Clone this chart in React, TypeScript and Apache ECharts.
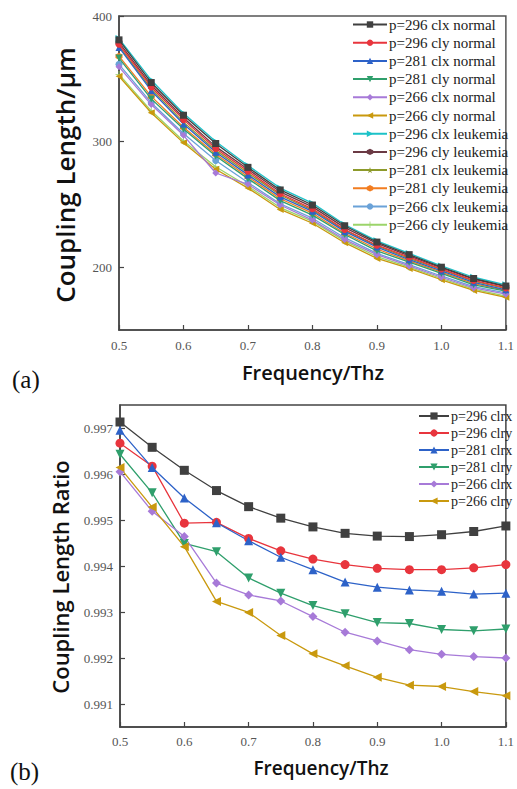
import React, { useEffect, useRef } from "react";
import * as echarts from "echarts";

const freqs = [0.5, 0.55, 0.6, 0.65, 0.7, 0.75, 0.8, 0.85, 0.9, 0.95, 1.0, 1.05, 1.1];

const namesA = [
  "p=296 clx normal", "p=296 cly normal", "p=281 clx normal", "p=281 cly normal",
  "p=266 clx normal", "p=266 cly normal", "p=296 clx leukemia", "p=296 cly leukemia",
  "p=281 clx leukemia", "p=281 cly leukemia", "p=266 clx leukemia", "p=266 cly leukemia",
];

const len296clxN = [381, 347, 321, 298.5, 279.5, 261.5, 249.5, 233, 220, 210, 200, 191, 185];
const len296clyN = [377.5, 343.5, 317.5, 294.5, 276.5, 258.5, 246.5, 230, 217.5, 208, 198.5, 189.5, 183.5];
const len281clxN = [375, 340.5, 314, 291.5, 273.5, 256, 244.5, 228.5, 216, 206, 197, 188, 182];
const len281clyN = [366.5, 334, 310, 288.5, 270.5, 253, 241.5, 226, 213, 204, 195, 186, 181];
const len266clxN = [359.5, 329.5, 305, 275, 266, 249.5, 237.5, 222, 210, 201, 192, 183.5, 178.5];
const len266clyN = [352, 323, 299, 278, 263, 246, 235, 219.5, 207, 199, 190, 181.5, 176];
const len296clxL = [382, 349, 322.5, 300, 281, 263, 251, 234, 221, 211, 201, 192, 186];
const len296clyL = [379, 345, 319, 296, 278, 260, 248, 231.5, 219, 209, 199.5, 190.5, 184.5];
const len281clxL = [376, 342, 315.5, 293, 275, 257.5, 245.5, 229.5, 217, 207, 198, 189, 183];
const len281clyL = [368, 336, 311.5, 290, 272, 254.5, 243, 227, 214.5, 205, 196, 187, 181.5];
const len266clxL = [361.5, 331, 306.5, 285, 267.5, 250.5, 239, 223.5, 211, 202, 193, 184.5, 179.5];
const len266clyL = [353.5, 324.5, 300.5, 280, 264.5, 247.5, 236.5, 221, 208.5, 200, 191, 182.5, 177];

const namesB = ["p=296 clrx", "p=296 clry", "p=281 clrx", "p=281 clry", "p=266 clrx", "p=266 clry"];

const ratio296clrx = [0.99713, 0.99658, 0.99608, 0.99564, 0.99529, 0.99504, 0.99485, 0.99471, 0.99465, 0.99464, 0.99468, 0.99475, 0.99487];
const ratio296clry = [0.99667, 0.99617, 0.99493, 0.99495, 0.9946, 0.99433, 0.99415, 0.99403, 0.99395, 0.99392, 0.99392, 0.99396, 0.99403];
const ratio281clrx = [0.99695, 0.99614, 0.99548, 0.99494, 0.99455, 0.99419, 0.99392, 0.99365, 0.99354, 0.99348, 0.99345, 0.99339, 0.99341];
const ratio281clry = [0.99643, 0.99559, 0.99449, 0.99431, 0.99374, 0.99341, 0.99314, 0.99296, 0.99277, 0.99275, 0.99262, 0.99259, 0.99263];
const ratio266clrx = [0.99605, 0.99519, 0.99464, 0.99363, 0.99337, 0.99324, 0.9929, 0.99256, 0.99237, 0.99218, 0.99208, 0.99203, 0.992];
const ratio266clry = [0.99614, 0.99528, 0.99442, 0.99323, 0.99299, 0.99249, 0.99209, 0.99183, 0.99158, 0.99141, 0.99138, 0.99127, 0.99118];

const yTicksA = [200, 300, 400];
const yTicksB = [0.991, 0.992, 0.993, 0.994, 0.995, 0.996, 0.997];

const STAR = "path://M50,0 L61,35 L98,35 L68,57 L79,91 L50,70 L21,91 L32,57 L2,35 L39,35 Z";
const PLUS = "path://M44,0 H56 V44 H100 V56 H56 V100 H44 V56 H0 V44 H44 Z";
const HEX = "path://M50,0 L93,25 L93,75 L50,100 L7,75 L7,25 Z";

const stylesA = [
  { color: "#404040", symbol: "rect", rotate: 0 },
  { color: "#e8353d", symbol: "circle", rotate: 0 },
  { color: "#2d62c8", symbol: "triangle", rotate: 0 },
  { color: "#2f9f6c", symbol: "triangle", rotate: 180 },
  { color: "#a77ad8", symbol: "diamond", rotate: 0 },
  { color: "#c9990e", symbol: "triangle", rotate: 90 },
  { color: "#1cc2c8", symbol: "triangle", rotate: -90 },
  { color: "#6b3a44", symbol: HEX, rotate: 0 },
  { color: "#8d9a2b", symbol: STAR, rotate: 0 },
  { color: "#f27d20", symbol: HEX, rotate: 0 },
  { color: "#6aa2d8", symbol: "circle", rotate: 0 },
  { color: "#9bd46a", symbol: PLUS, rotate: 0 },
];

const dataA = [
  len296clxN, len296clyN, len281clxN, len281clyN, len266clxN, len266clyN,
  len296clxL, len296clyL, len281clxL, len281clyL, len266clxL, len266clyL,
];
const dataB = [ratio296clrx, ratio296clry, ratio281clrx, ratio281clry, ratio266clrx, ratio266clry];

const tickFont = "Liberation Serif";
const titleFont = "Open Sans";

export default function App() {
  const ref = useRef<HTMLDivElement>(null);
  useEffect(() => {
    if (!ref.current) return;
    const chart = echarts.init(ref.current, null, { renderer: "svg" });
    const pairs = (arr: number[]) => arr.map((v, i) => [freqs[i], v]);

    const axisCommon = {
      axisLine: { show: true, lineStyle: { color: "#444", width: 1.5 } },
      axisTick: { show: true, inside: true, length: 5, lineStyle: { color: "#444", width: 1.2 } },
      splitLine: { show: false },
      axisLabel: { color: "#555", fontFamily: tickFont, fontSize: 13 },
    };

    const seriesA = dataA.map((d, i) => ({
      name: namesA[i],
      type: "line",
      xAxisIndex: 0,
      yAxisIndex: 0,
      data: pairs(d),
      symbol: stylesA[i].symbol,
      symbolRotate: stylesA[i].rotate,
      symbolSize: 7,
      lineStyle: { color: stylesA[i].color, width: 1.3 },
      itemStyle: { color: stylesA[i].color },
      z: 20 - i,
    }));
    const seriesB = dataB.map((d, i) => ({
      name: namesB[i],
      type: "line",
      xAxisIndex: 1,
      yAxisIndex: 1,
      data: pairs(d),
      symbol: stylesA[i].symbol,
      symbolRotate: stylesA[i].rotate,
      symbolSize: 9,
      lineStyle: { color: stylesA[i].color, width: 1.3 },
      itemStyle: { color: stylesA[i].color },
    }));

    chart.setOption({
      animation: false,
      backgroundColor: "#fff",
      grid: [
        { left: 119, top: 16, width: 390, height: 314, show: true, borderColor: "#555", borderWidth: 1.5, backgroundColor: "transparent" },
        { left: 120, top: 405, width: 396, height: 322, show: true, borderColor: "#444", borderWidth: 1.5, backgroundColor: "transparent" },
      ],
      xAxis: [
        {
          ...axisCommon, type: "value", gridIndex: 0, min: 0.5, max: 1.1, interval: 0.1,
          axisLabel: { ...axisCommon.axisLabel, margin: 9, formatter: (v: number) => v.toFixed(1) },
        },
        {
          ...axisCommon, type: "value", gridIndex: 1, min: 0.5, max: 1.1, interval: 0.1,
          axisLabel: { ...axisCommon.axisLabel, margin: 8, formatter: (v: number) => v.toFixed(1) },
        },
      ],
      yAxis: [
        {
          ...axisCommon, type: "value", gridIndex: 0, min: 150, max: 400,
          axisTick: { ...axisCommon.axisTick, customValues: yTicksA },
          axisLabel: { ...axisCommon.axisLabel, margin: 7, customValues: yTicksA },
        },
        {
          ...axisCommon, type: "value", gridIndex: 1, min: 0.9905, max: 0.9975,
          axisTick: { ...axisCommon.axisTick, customValues: yTicksB },
          axisLabel: { ...axisCommon.axisLabel, margin: 7, customValues: yTicksB, formatter: (v: number) => v.toFixed(3) },
        },
      ],
      legend: [
        {
          data: namesA, orient: "vertical", left: 352, top: 17, itemWidth: 34, itemHeight: 8, itemGap: 3.2,
          textStyle: { fontFamily: tickFont, fontSize: 15, color: "#222", padding: [0, 0, 0, -3] },
          padding: 0,
        },
        {
          data: namesB, orient: "vertical", left: 418, top: 409, itemWidth: 30, itemHeight: 9, itemGap: 3,
          textStyle: { fontFamily: tickFont, fontSize: 14, color: "#222", padding: [0, 0, 0, -3] },
          padding: 0,
        },
      ],
      graphic: [
        { type: "text", x: 65, y: 175, rotation: Math.PI / 2, style: { text: "Coupling Length/μm", fontFamily: titleFont, fontSize: 26, fontWeight: 600, fill: "#111", textAlign: "center", textVerticalAlign: "middle" } },
        { type: "text", x: 313, y: 372, style: { text: "Frequency/Thz", fontFamily: titleFont, fontSize: 20, fontWeight: 600, fill: "#111", textAlign: "center", textVerticalAlign: "middle" } },
        { type: "text", x: 12, y: 379, style: { text: "(a)", fontFamily: tickFont, fontSize: 25, fill: "#111", textAlign: "left", textVerticalAlign: "middle" } },
        { type: "text", x: 60, y: 577, rotation: Math.PI / 2, style: { text: "Coupling Length Ratio", fontFamily: titleFont, fontSize: 22, fontWeight: 600, fill: "#111", textAlign: "center", textVerticalAlign: "middle" } },
        { type: "text", x: 321, y: 768, style: { text: "Frequency/Thz", fontFamily: titleFont, fontSize: 19, fontWeight: 600, fill: "#111", textAlign: "center", textVerticalAlign: "middle" } },
        { type: "text", x: 10, y: 771, style: { text: "(b)", fontFamily: tickFont, fontSize: 25, fill: "#111", textAlign: "left", textVerticalAlign: "middle" } },
      ],
      series: [...seriesA, ...seriesB],
    });
    return () => chart.dispose();
  }, []);
  return <div ref={ref} style={{ position: "absolute", left: 0, top: 0, width: 517, height: 789 }} />;
}
